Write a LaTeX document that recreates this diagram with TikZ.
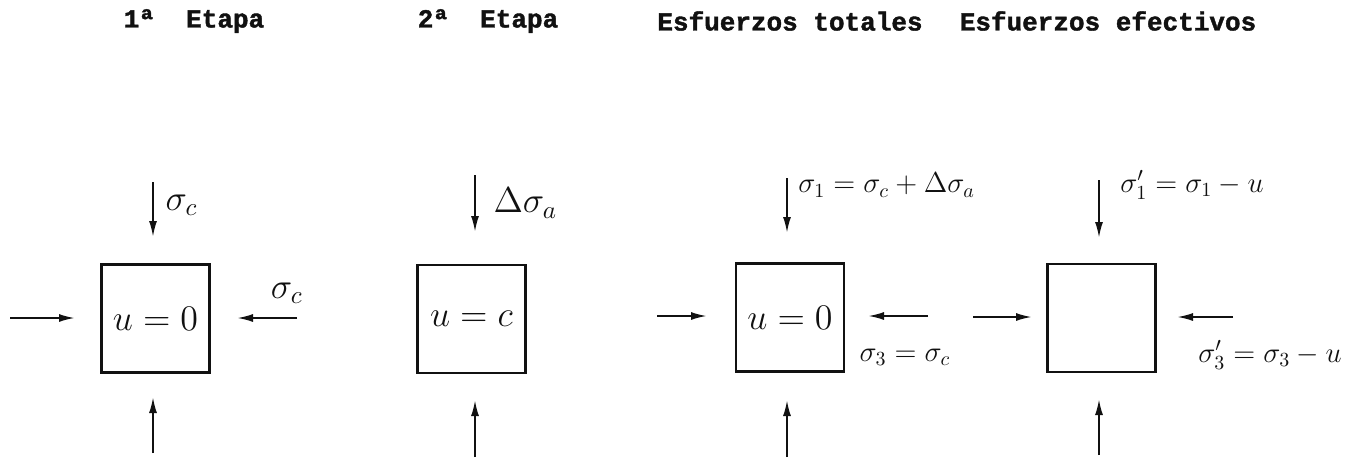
\documentclass[tikz,border=0pt]{standalone}
\usepackage{fontspec}
\usepackage{tikz}
\usetikzlibrary{arrows.meta}
\newfontfamily\headfont[FakeBold=1.5]{Liberation Mono}
\definecolor{inkblack}{HTML}{111111}

\begin{document}
\begin{tikzpicture}[x=0.5pt,y=-0.5pt,
  heading/.style={font=\headfont\bfseries\fontsize{13}{15}\selectfont, text=inkblack},
  sample/.style={draw=inkblack, line width=1.4pt, minimum width=54pt, minimum height=54pt, inner sep=0pt},
  hand/.style={font=\fontsize{14.4}{17}\selectfont, inner sep=0pt, text=inkblack},
  handbig/.style={hand, scale=1.25},
  load/.style={draw=inkblack, line width=1pt, -{Latex[length=8pt,width=4pt]}}]
  \useasboundingbox (0,0) rectangle (1362,462);
  % stage headings
  \node[heading] (stage1) at (194,21) {1ª\ \ Etapa};
  \node[heading] (stage2) at (488,21) {2ª\ \ Etapa};
  \node[heading] (total) at (790,21) {Esfuerzos totales};
  \node[heading] (effective) at (1108,21) {Esfuerzos efectivos};
  % soil samples
  \node[sample] (s1) at (155.5,318.5) {};
  \node[sample] (s2) at (471.5,319) {};
  \node[sample] (s3) at (790,317.5) {};
  \node[sample] (s4) at (1101.5,318) {};
  \node[handbig] (u1) at (s1) {$u=0$};
  \node[handbig] (u2) at (s2) {$u=c$};
  \node[handbig] (u3) at (s3) {$u=0$};
  % vertical loads, top and bottom of each sample
  \foreach \s/\x/\ya/\yb/\yc/\yd in {1/153/182/237/453/397, 2/475/175/232/457/400,
                                     3/787/178/233/457/400, 4/1099/180/238/455/399}{
    \coordinate (top\s) at (\x,\ya);
    \coordinate (topend\s) at (\x,\yb);
    \coordinate (bot\s) at (\x,\yc);
    \coordinate (botend\s) at (\x,\yd);
    \draw[load] (top\s) -- (topend\s);
    \draw[load] (bot\s) -- (botend\s);
  }
  % horizontal loads, left and right of each sample
  \foreach \s/\xa/\xb/\xc/\xd/\y in {1/10/75/297/237/318, 3/657/707/928/868/316,
                                     4/973/1032/1233/1177/317}{
    \coordinate (left\s) at (\xa,\y);
    \coordinate (leftend\s) at (\xb,\y);
    \coordinate (right\s) at (\xc,\y);
    \coordinate (rightend\s) at (\xd,\y);
    \draw[load] (left\s) -- (leftend\s);
    \draw[load] (right\s) -- (rightend\s);
  }
  % stress labels
  \node[handbig, anchor=west] (sig1) at (165,205) {$\sigma_c$};
  \node[handbig] (sig1h) at (287,293) {$\sigma_c$};
  \node[handbig, anchor=west] (sig2) at (493,203) {$\Delta\sigma_a$};
  \node[hand, anchor=west] (sig3) at (798,185) {$\sigma_1=\sigma_c+\Delta\sigma_a$};
  \node[hand] (sig3h) at (905,357) {$\sigma_3=\sigma_c$};
  \node[hand, anchor=west] (sig4) at (1120,185) {$\sigma_1'=\sigma_1-u$};
  \node[hand] (sig4h) at (1270,355) {$\sigma_3'=\sigma_3-u$};
\end{tikzpicture}
\end{document}
